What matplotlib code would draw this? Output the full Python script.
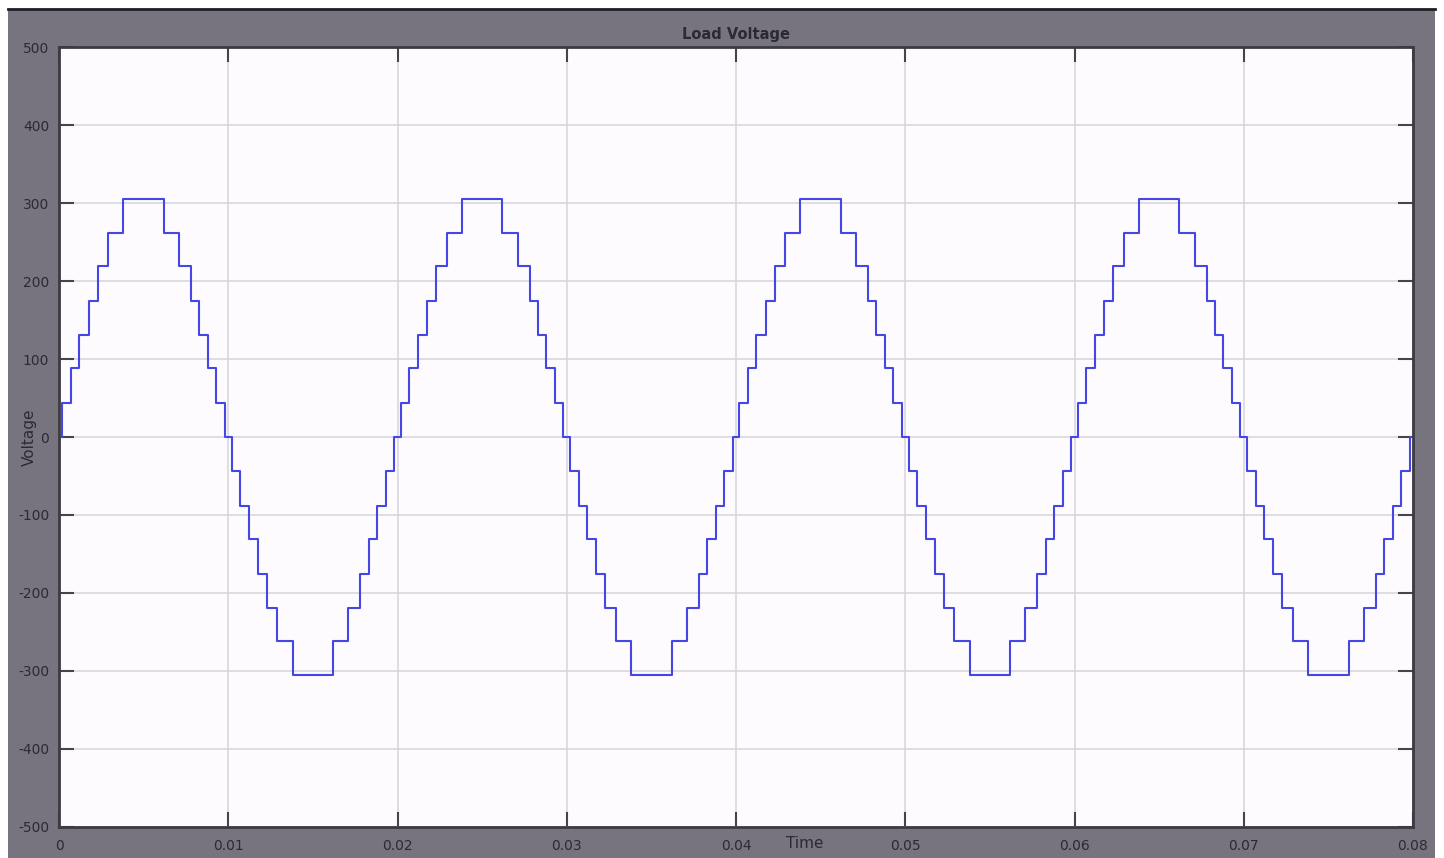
import numpy as np
import matplotlib
matplotlib.use("Agg")
import matplotlib.pyplot as plt
from matplotlib.patches import Rectangle

plt.rcParams["axes.unicode_minus"] = False

# ---- data ----
# switching instants within one 50 Hz cycle (s) and level after each edge (V)
edge_times = [0.0002, 0.0007, 0.0012, 0.00175, 0.00228, 0.0029, 0.0038,
              0.0062, 0.0071, 0.0078, 0.0083, 0.0088, 0.0093, 0.0098,
              0.0102, 0.0107, 0.0112, 0.01175, 0.01228, 0.0129, 0.0138,
              0.0162, 0.0171, 0.0178, 0.0183, 0.0188, 0.0193, 0.0198]
edge_levels = [44, 88, 131, 175, 219, 262, 305,
               262, 219, 175, 131, 88, 44, 0,
               -44, -88, -131, -175, -219, -262, -305,
               -262, -219, -175, -131, -88, -44, 0]
period = 0.02
n_cycles = 4

xticks = [0, 0.01, 0.02, 0.03, 0.04, 0.05, 0.06, 0.07, 0.08]
xtick_labels = ["0", "0.01", "0.02", "0.03", "0.04", "0.05", "0.06", "0.07", "0.08"]
yticks = [-500, -400, -300, -200, -100, 0, 100, 200, 300, 400, 500]

# build the step trace: repeat the cycle
t = [0.0]
v = [0]
for k in range(n_cycles):
    for te, lv in zip(edge_times, edge_levels):
        t.append(k * period + te)
        v.append(lv)
t.append(n_cycles * period)
v.append(v[-1])

panel = "#78747f"
txt = "#2b2a30"

fig = plt.figure(figsize=(14.44, 8.58), dpi=100)
fig.patch.set_facecolor("white")
fig.add_artist(Rectangle((8 / 1444, 0), 1427 / 1444, 849 / 858,
                         transform=fig.transFigure, facecolor=panel,
                         edgecolor="none", zorder=0))
fig.add_artist(plt.Line2D([8 / 1444, 1435 / 1444], [849 / 858, 849 / 858],
                          transform=fig.transFigure, color="#1e1e22", lw=2))

ax = fig.add_axes([59 / 1444, 31 / 858, 1354 / 1444, 780 / 858])
ax.set_facecolor("#fdfbfe")
ax.step(t, v, where="post", color="#4646e6", lw=1.5)

ax.set_xlim(0, 0.08)
ax.set_ylim(-500, 500)
ax.set_xticks(xticks)
ax.set_xticklabels(xtick_labels)
ax.set_yticks(yticks)
ax.grid(True, color="#d6d4dc", lw=1.1)
ax.tick_params(direction="in", length=11, width=1.5, color="#45444c",
               top=True, right=True, labelsize=10, labelcolor=txt)
ax.tick_params(axis="x", pad=9)
ax.tick_params(axis="y", pad=7)
for s in ax.spines.values():
    s.set_color("#3c3b42")
    s.set_linewidth(2)

ax.set_title("Load Voltage", fontsize=10.5, fontweight="bold", color=txt, pad=6)
ax.set_xlabel("Time", fontsize=11, color=txt)
ax.xaxis.set_label_coords(0.551, -0.012)
ax.set_ylabel("Voltage", fontsize=11, color=txt)
ax.yaxis.set_label_coords(-0.016, 0.5)

fig.savefig("out.png", dpi=100)
